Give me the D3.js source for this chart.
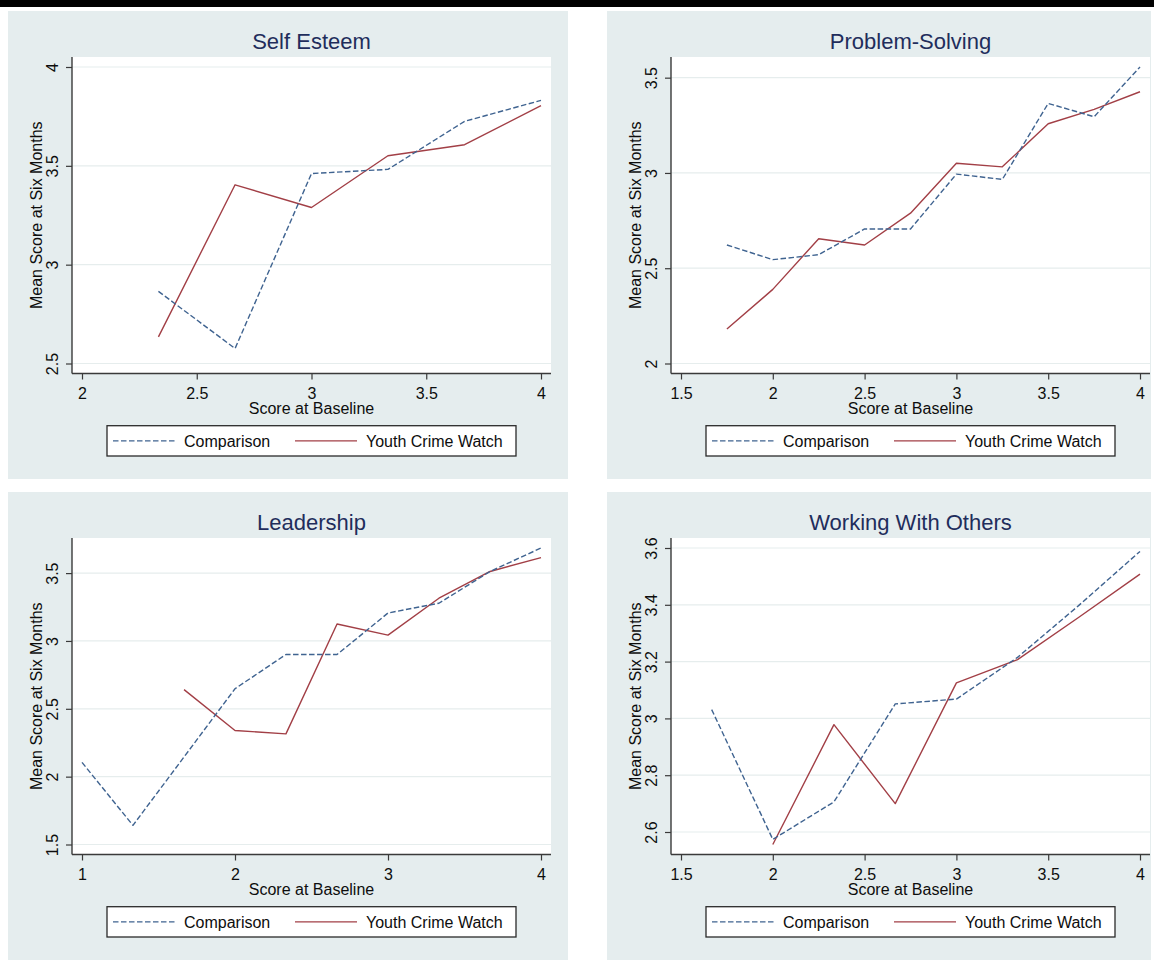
<!DOCTYPE html>
<html>
<head>
<meta charset="utf-8">
<script src="https://cdn.jsdelivr.net/npm/d3@7"></script>
<style>
  html, body { margin: 0; padding: 0; background: #ffffff; }
  svg { display: block; }
  text { font-family: "Liberation Sans", Arial, Helvetica, sans-serif; }
</style>
</head>
<body>
<svg id="chart" width="1154" height="960"></svg>
<script>
// ---- Data: mean score at six months by baseline score ----
const seriesNames = ["Comparison", "Youth Crime Watch"];

// Self Esteem
const selfEsteemCompX = [2.333, 2.667, 3, 3.333, 3.667, 4];
const selfEsteemCompY = [2.865, 2.576, 3.461, 3.482, 3.725, 3.831];
const selfEsteemYcwX  = [2.333, 2.667, 3, 3.333, 3.667, 4];
const selfEsteemYcwY  = [2.635, 3.404, 3.289, 3.551, 3.607, 3.804];
const selfEsteemXTicks = [2, 2.5, 3, 3.5, 4];
const selfEsteemYTicks = [2.5, 3, 3.5, 4];

// Problem-Solving
const problemCompX = [1.75, 2, 2.25, 2.5, 2.75, 3, 3.25, 3.5, 3.75, 4];
const problemCompY = [2.622, 2.545, 2.571, 2.706, 2.706, 2.994, 2.966, 3.365, 3.295, 3.556];
const problemYcwX  = [1.75, 2, 2.25, 2.5, 2.75, 3, 3.25, 3.5, 3.75, 4];
const problemYcwY  = [2.181, 2.389, 2.655, 2.622, 2.789, 3.051, 3.032, 3.258, 3.334, 3.426];
const problemXTicks = [1.5, 2, 2.5, 3, 3.5, 4];
const problemYTicks = [2, 2.5, 3, 3.5];

// Leadership
const leadershipCompX = [1, 1.333, 2, 2.333, 2.667, 3, 3.333, 3.667, 4];
const leadershipCompY = [2.105, 1.641, 2.648, 2.9, 2.9, 3.206, 3.278, 3.512, 3.685];
const leadershipYcwX  = [1.667, 2, 2.333, 2.667, 3, 3.333, 3.667, 4];
const leadershipYcwY  = [2.641, 2.340, 2.315, 3.125, 3.043, 3.315, 3.512, 3.614];
const leadershipXTicks = [1, 2, 3, 4];
const leadershipYTicks = [1.5, 2, 2.5, 3, 3.5];

// Working With Others
const workingCompX = [1.667, 2, 2.333, 2.667, 3, 3.333, 3.667, 4];
const workingCompY = [3.031, 2.574, 2.706, 3.051, 3.068, 3.215, 3.398, 3.588];
const workingYcwX  = [2, 2.333, 2.667, 3, 3.333, 3.667, 4];
const workingYcwY  = [2.556, 2.978, 2.700, 3.125, 3.207, 3.356, 3.508];
const workingXTicks = [1.5, 2, 2.5, 3, 3.5, 4];
const workingYTicks = [2.6, 2.8, 3, 3.2, 3.4, 3.6];

const zipPts = (xs, ys) => xs.map((x, i) => ({ x, y: ys[i] }));

const panels = [
  { title: "Self Esteem", ox: 8, oy: 11, w: 560,
    xTicks: selfEsteemXTicks, yTicks: selfEsteemYTicks,
    comp: zipPts(selfEsteemCompX, selfEsteemCompY), ycw: zipPts(selfEsteemYcwX, selfEsteemYcwY) },
  { title: "Problem-Solving", ox: 607, oy: 11, w: 544,
    xTicks: problemXTicks, yTicks: problemYTicks,
    comp: zipPts(problemCompX, problemCompY), ycw: zipPts(problemYcwX, problemYcwY) },
  { title: "Leadership", ox: 8, oy: 492, w: 560,
    xTicks: leadershipXTicks, yTicks: leadershipYTicks,
    comp: zipPts(leadershipCompX, leadershipCompY), ycw: zipPts(leadershipYcwX, leadershipYcwY) },
  { title: "Working With Others", ox: 607, oy: 492, w: 544,
    xTicks: workingXTicks, yTicks: workingYTicks,
    comp: zipPts(workingCompX, workingCompY), ycw: zipPts(workingYcwX, workingYcwY) }
];

// ---- Styling ----
const panelFill = "#e5edee";
const gridColor = "#e6eded";
const axisColor = "#3a3a3a";
const titleColor = "#1f2d5c";
const compColor = "#3f6390";
const ycwColor = "#a23f46";
const compDash = "5.5,2.5";
const labelSize = "16px";
const textColor = "#0d0d0d";

const svg = d3.select("#chart");

// top rule
svg.append("rect").attr("x", 0).attr("y", 0).attr("width", 1154).attr("height", 7).attr("fill", "#000");

const fmt = v => String(+v.toFixed(2));

// plot geometry inside each panel
const plotL = 64, plotT = 46, plotW = 479, plotH = 316.5, pad = 10;

panels.forEach(p => {
  const g = svg.append("g").attr("transform", `translate(${p.ox},${p.oy})`);
  g.append("rect").attr("x", 0).attr("y", 0).attr("width", p.w).attr("height", 468).attr("fill", panelFill);

  const plotR = plotL + plotW, plotB = plotT + plotH;
  g.append("rect").attr("x", plotL).attr("y", plotT).attr("width", plotW).attr("height", plotH).attr("fill", "#fff");

  const allX = p.xTicks.concat(p.comp.map(d => d.x), p.ycw.map(d => d.x));
  const allY = p.yTicks.concat(p.comp.map(d => d.y), p.ycw.map(d => d.y));
  const x = d3.scaleLinear().domain(d3.extent(allX)).range([plotL + pad, plotR - pad]);
  const y = d3.scaleLinear().domain(d3.extent(allY)).range([plotB - pad, plotT + pad]);

  // gridlines
  g.append("g").selectAll("line").data(p.yTicks).join("line")
    .attr("x1", plotL).attr("x2", plotR)
    .attr("y1", d => y(d)).attr("y2", d => y(d))
    .attr("stroke", gridColor).attr("stroke-width", 1.2);

  // series lines
  const line = d3.line().x(d => x(d.x)).y(d => y(d.y));
  g.append("path").datum(p.ycw).attr("d", line)
    .attr("fill", "none").attr("stroke", ycwColor).attr("stroke-width", 1.4).attr("stroke-linejoin", "round");
  g.append("path").datum(p.comp).attr("d", line)
    .attr("fill", "none").attr("stroke", compColor).attr("stroke-width", 1.4)
    .attr("stroke-dasharray", compDash).attr("stroke-linejoin", "round");

  // y axis
  const yAxis = g.append("g").attr("transform", `translate(${plotL},0)`)
    .call(d3.axisLeft(y).tickValues(p.yTicks).tickSize(6).tickSizeOuter(0).tickFormat(fmt));
  yAxis.select(".domain").remove();
  yAxis.selectAll(".tick line").attr("stroke", axisColor).attr("stroke-width", 1.2);
  yAxis.selectAll(".tick text")
    .attr("x", null).attr("dy", null)
    .attr("transform", "translate(-14,0) rotate(-90)")
    .attr("text-anchor", "middle")
    .attr("fill", textColor).style("font-size", labelSize)
    .style("font-family", '"Liberation Sans", Arial, sans-serif');

  // x axis
  const xAxis = g.append("g").attr("transform", `translate(0,${plotB})`)
    .call(d3.axisBottom(x).tickValues(p.xTicks).tickSize(6).tickSizeOuter(0).tickFormat(fmt));
  xAxis.select(".domain").remove();
  xAxis.selectAll(".tick line").attr("stroke", axisColor).attr("stroke-width", 1.2);
  xAxis.selectAll(".tick text")
    .attr("y", 25.5).attr("dy", null)
    .attr("fill", textColor).style("font-size", labelSize)
    .style("font-family", '"Liberation Sans", Arial, sans-serif');

  // axis lines spanning the plot region
  g.append("line").attr("x1", plotL).attr("x2", plotL).attr("y1", plotT).attr("y2", plotB)
    .attr("stroke", axisColor).attr("stroke-width", 1.4);
  g.append("line").attr("x1", plotL).attr("x2", plotR).attr("y1", plotB).attr("y2", plotB)
    .attr("stroke", axisColor).attr("stroke-width", 1.4);

  const cx = plotL + plotW / 2;

  // titles
  g.append("text").attr("x", cx).attr("y", 37.5).attr("text-anchor", "middle")
    .attr("fill", titleColor).style("font-size", "22px").text(p.title);
  g.append("text").attr("x", cx).attr("y", plotB + 40.5).attr("text-anchor", "middle")
    .attr("fill", textColor).style("font-size", labelSize).text("Score at Baseline");
  g.append("text").attr("transform", `translate(${plotL - 30},${(plotT + plotB) / 2}) rotate(-90)`)
    .attr("text-anchor", "middle").attr("fill", textColor).style("font-size", labelSize)
    .text("Mean Score at Six Months");

  // legend
  const lw = 409, lh = 30.3;
  const lg = g.append("g").attr("transform", `translate(${cx - lw / 2},${414.7})`);
  lg.append("rect").attr("width", lw).attr("height", lh).attr("fill", "#fff")
    .attr("stroke", "#2a2a2a").attr("stroke-width", 1.3);
  const items = [
    { name: seriesNames[0], color: compColor, dash: compDash, x0: 6, tx: 77 },
    { name: seriesNames[1], color: ycwColor, dash: null, x0: 188, tx: 259 }
  ];
  items.forEach(it => {
    lg.append("line").attr("x1", it.x0).attr("x2", it.x0 + 62).attr("y1", lh / 2).attr("y2", lh / 2)
      .attr("stroke", it.color).attr("stroke-width", 1.3).attr("stroke-dasharray", it.dash);
    lg.append("text").attr("x", it.tx).attr("y", lh / 2 + 5.8).attr("fill", textColor)
      .style("font-size", labelSize).text(it.name);
  });
});
</script>
</body>
</html>
